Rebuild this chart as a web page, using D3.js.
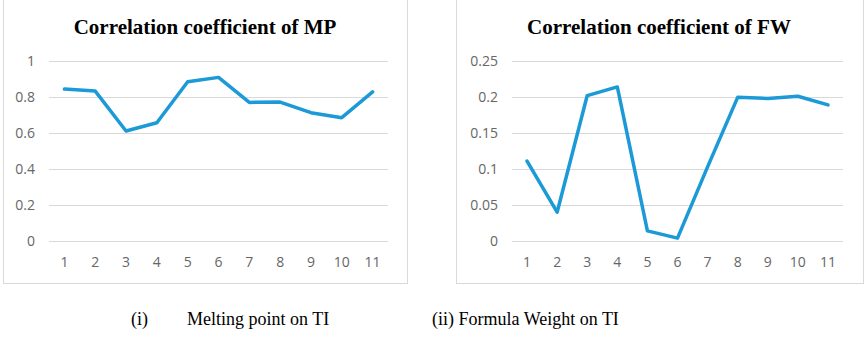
<!DOCTYPE html>
<html><head><meta charset="utf-8">
<script src="https://cdn.jsdelivr.net/npm/d3@7"></script>
<style>body{margin:0;background:#fff}svg{display:block}</style>
</head><body>
<svg id="c" width="865" height="339"></svg>
<script>
const categories = ["1","2","3","4","5","6","7","8","9","10","11"];
const mpValues = [0.844, 0.833, 0.611, 0.657, 0.885, 0.909, 0.770, 0.772, 0.713, 0.685, 0.828];
const fwValues = [0.111, 0.040, 0.202, 0.214, 0.014, 0.004, 0.103, 0.1995, 0.198, 0.201, 0.189];
const mpTicks = [0, 0.2, 0.4, 0.6, 0.8, 1];
const fwTicks = [0, 0.05, 0.1, 0.15, 0.2, 0.25];
const titles = ["Correlation coefficient of MP", "Correlation coefficient of FW"];
const captions = ["(i)", "Melting point on TI", "(ii) Formula Weight on TI"];

const svg = d3.select("#c");
const lineColor = "#1b9ad7";

function panel(cfg) {
  const g = svg.append("g");
  g.append("rect").attr("x", cfg.box[0] + 0.5).attr("y", -1).attr("width", cfg.box[1] - cfg.box[0])
    .attr("height", 284.5).attr("fill", "none").attr("stroke", "#d9d9d9").attr("stroke-width", 1);
  const x = d3.scaleBand().domain(categories).range(cfg.xr);
  const y = d3.scaleLinear().domain([0, cfg.max]).range([241, 61]);
  g.selectAll("line.grid").data(cfg.ticks).join("line")
    .attr("x1", cfg.xr[0]).attr("x2", cfg.xr[1])
    .attr("y1", d => Math.round(y(d)) + 0.5).attr("y2", d => Math.round(y(d)) + 0.5)
    .attr("stroke", "#d9d9d9").attr("stroke-width", 1);
  const ya = d3.axisLeft(y).tickValues(cfg.ticks).tickSize(0).tickPadding(0).tickFormat(d => String(+d.toFixed(2)));
  const yg = g.append("g").attr("transform", `translate(${cfg.ylx},0)`).call(ya);
  yg.select(".domain").remove();
  yg.selectAll("text").attr("font-family", "Open Sans, sans-serif").attr("font-size", 14).attr("fill", "#666");
  const xa = d3.axisBottom(x).tickSize(0).tickPadding(0);
  const xg = g.append("g").attr("transform", `translate(0,257)`).call(xa);
  xg.select(".domain").remove();
  xg.selectAll("text").attr("font-family", "Open Sans, sans-serif").attr("font-size", 14).attr("fill", "#666");
  const line = d3.line().x((d, i) => x(categories[i]) + x.bandwidth() / 2).y(d => y(d));
  g.append("path").datum(cfg.values).attr("d", line).attr("fill", "none")
    .attr("stroke", lineColor).attr("stroke-width", 3.5).attr("stroke-linejoin", "round").attr("stroke-linecap", "round");
  g.append("text").attr("x", cfg.tx).attr("y", 34).attr("text-anchor", "middle")
    .attr("font-family", "Liberation Serif, Times New Roman, serif").attr("font-weight", "bold")
    .attr("font-size", 21).attr("fill", "#000").text(cfg.title);
}

panel({box: [3, 407], xr: [49, 388], ylx: 35, max: 1, ticks: mpTicks, values: mpValues, title: titles[0], tx: 205});
panel({box: [456, 863], xr: [512, 843], ylx: 498, max: 0.25, ticks: fwTicks, values: fwValues, title: titles[1], tx: 659});

const capFont = "Liberation Serif, Times New Roman, serif";
svg.append("text").attr("x", 131).attr("y", 325).attr("font-family", capFont).attr("font-size", 18).text(captions[0]);
svg.append("text").attr("x", 187).attr("y", 325).attr("font-family", capFont).attr("font-size", 18).text(captions[1]);
svg.append("text").attr("x", 432).attr("y", 325).attr("font-family", capFont).attr("font-size", 18).text(captions[2]);
</script>
</body></html>
